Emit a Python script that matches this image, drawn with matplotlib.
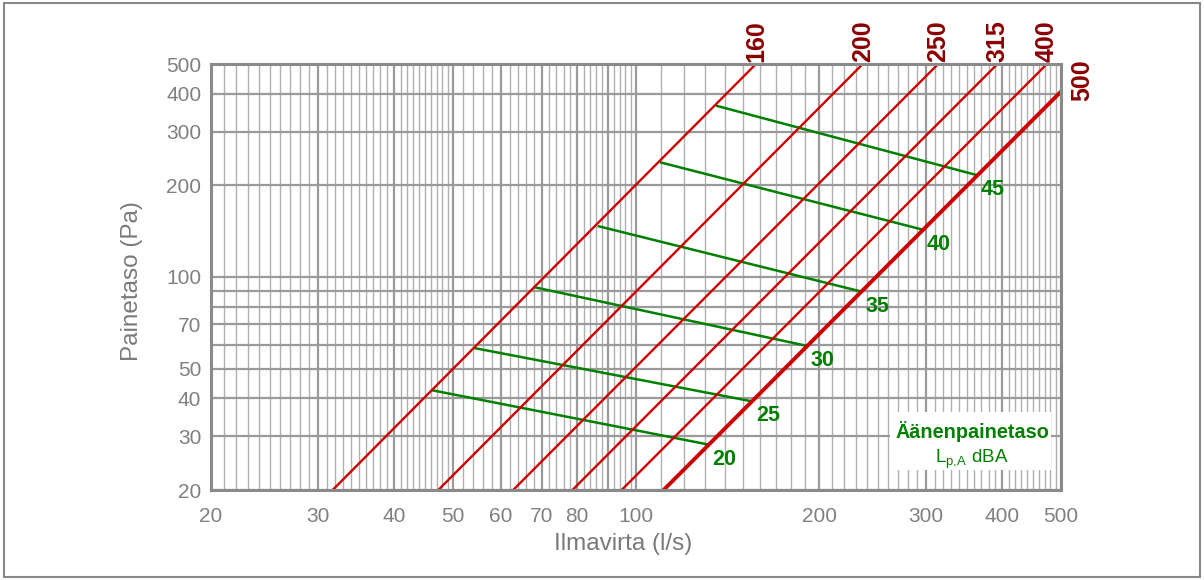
import matplotlib
matplotlib.use("Agg")
import matplotlib.pyplot as plt
from matplotlib.patches import Rectangle
from matplotlib.ticker import FixedLocator, FixedFormatter, NullFormatter

plt.rcParams['font.family'] = ['Liberation Sans', 'DejaVu Sans']

# ---------------- data ----------------
# duct sizes (red lines): flow at the low and high end of each line
duct_labels = ['160', '200', '250', '315', '400', '500']
duct_q_low = [31.7, 47.3, 62.8, 78.6, 94.7, 111.0]
duct_p_low = [20, 20, 20, 20, 20, 20]
duct_q_high = [157.5, 236.0, 314.0, 393.0, 474.0, 500.0]
duct_p_high = [500, 500, 500, 500, 500, 406]

# sound pressure level lines (green)
level_labels = ['20', '25', '30', '35', '40', '45']
level_q_left = [46.2, 54.1, 68.2, 86.5, 109.5, 135.4]
level_p_left = [42.5, 58.5, 92.5, 147.0, 238.0, 365.0]
level_q_right = [131.5, 155.0, 190.4, 234.6, 296.2, 363.4]
level_p_right = [28.2, 39.1, 59.5, 89.6, 143.0, 216.0]

# axis ticks
x_major = [20, 30, 40, 50, 60, 70, 80, 90, 100, 200, 300, 400, 500]
x_major_labels = ['20', '30', '40', '50', '60', '70', '80', '', '100', '200', '300', '400', '500']
x_minor = ([21, 22, 23, 24, 25, 26, 27, 28, 29,
            31, 32, 33, 34, 35, 36, 37, 38, 39,
            41, 42, 43, 44, 45, 46, 47, 48, 49,
            52, 54, 56, 58, 62, 64, 66, 68, 72, 74, 76, 78,
            82, 84, 86, 88, 92, 94, 96, 98,
            110, 120, 130, 140, 150, 160, 170, 180, 190,
            210, 220, 230, 240, 250, 260, 270, 280, 290,
            310, 320, 330, 340, 350, 360, 370, 380, 390,
            410, 420, 430, 440, 450, 460, 470, 480, 490])
y_major = [20, 30, 40, 50, 60, 70, 80, 90, 100, 200, 300, 400, 500]
y_major_labels = ['20', '30', '40', '50', '', '70', '', '', '100', '200', '300', '400', '500']

# ---------------- figure ----------------
W, H = 1204, 580
fig = plt.figure(figsize=(W / 100, H / 100), dpi=100)
ax = fig.add_axes([211 / W, 1 - 490 / H, 850 / W, 426 / H])

ax.set_xscale('log')
ax.set_yscale('log')
ax.set_xlim(20, 500)
ax.set_ylim(20, 500)

ax.xaxis.set_major_locator(FixedLocator(x_major))
ax.xaxis.set_major_formatter(FixedFormatter(x_major_labels))
ax.xaxis.set_minor_locator(FixedLocator(x_minor))
ax.xaxis.set_minor_formatter(NullFormatter())
ax.yaxis.set_major_locator(FixedLocator(y_major))
ax.yaxis.set_major_formatter(FixedFormatter(y_major_labels))
ax.yaxis.set_minor_locator(FixedLocator([]))
ax.yaxis.set_minor_formatter(NullFormatter())

tick_col = '#808080'
ax.tick_params(axis='x', which='both', length=0, pad=12.5, labelsize=15, labelcolor=tick_col)
ax.tick_params(axis='y', which='both', length=0, pad=7, labelsize=15, labelcolor=tick_col)

ax.grid(True, which='major', axis='both', color='#9a9a9a', lw=1.6)
ax.grid(True, which='minor', axis='x', color='#b0b0b0', lw=1.0)
ax.set_axisbelow(True)

for s in ax.spines.values():
    s.set_color('#8a8a8a')
    s.set_linewidth(2.2)
    s.set_zorder(5)

ax.set_xlabel('Ilmavirta (l/s)', fontsize=17.5, color='#7a7a7a')
ax.set_ylabel('Painetaso (Pa)', fontsize=17.5, color='#7a7a7a')
ax.xaxis.set_label_coords(0.485, -0.102)
ax.yaxis.set_label_coords(-0.08, 0.49)

red = '#CC0000'
dark_red = '#8B0000'
green = '#008000'

# red duct lines
for i, lab in enumerate(duct_labels):
    lw = 2.8 if lab == '500' else 1.7
    ax.plot([duct_q_low[i], duct_q_high[i]], [duct_p_low[i], duct_p_high[i]],
            color=red, lw=lw, zorder=3, solid_capstyle='butt')
    if lab == '500':
        ax.annotate(lab, xy=(duct_q_high[i], duct_p_high[i]), xytext=(7, 8),
                    textcoords='offset points', rotation=90, ha='left', va='center',
                    fontsize=18, fontweight='bold', color=dark_red, annotation_clip=False)
    else:
        ax.annotate(lab, xy=(duct_q_high[i], duct_p_high[i]), xytext=(0, 1.5),
                    textcoords='offset points', rotation=90, ha='center', va='bottom',
                    fontsize=18, fontweight='bold', color=dark_red, annotation_clip=False)

# green sound level lines
for i, lab in enumerate(level_labels):
    ax.plot([level_q_left[i], level_q_right[i]], [level_p_left[i], level_p_right[i]],
            color=green, lw=1.8, zorder=2.5, solid_capstyle='butt')
    ax.annotate(lab, xy=(level_q_right[i], level_p_right[i]), xytext=(3, -3),
                textcoords='offset points', ha='left', va='top',
                fontsize=15.5, fontweight='bold', color=green)

# legend box
ax.add_patch(Rectangle(((890 - 211) / 850, (490 - 470) / 426), 161 / 850, 58 / 426,
                       transform=ax.transAxes, facecolor='white', edgecolor='none', zorder=4))
ax.text(0.896, 0.122, 'Äänenpainetaso', transform=ax.transAxes, ha='center', va='baseline',
        fontsize=14.3, fontweight='bold', color=green, zorder=6)
ax.text(0.895, 0.063, r'L$_{\mathregular{p{,}A}}$ dBA', transform=ax.transAxes, ha='center',
        va='baseline', fontsize=13.5, color=green, zorder=6)

# outer frame
fig.patches.append(Rectangle((4.3 / W, 3 / H), (1200 - 4.3) / W, (577 - 3.3) / H,
                             transform=fig.transFigure, fill=False, edgecolor='#888888', lw=1.5))

fig.savefig('out.png', dpi=100)
